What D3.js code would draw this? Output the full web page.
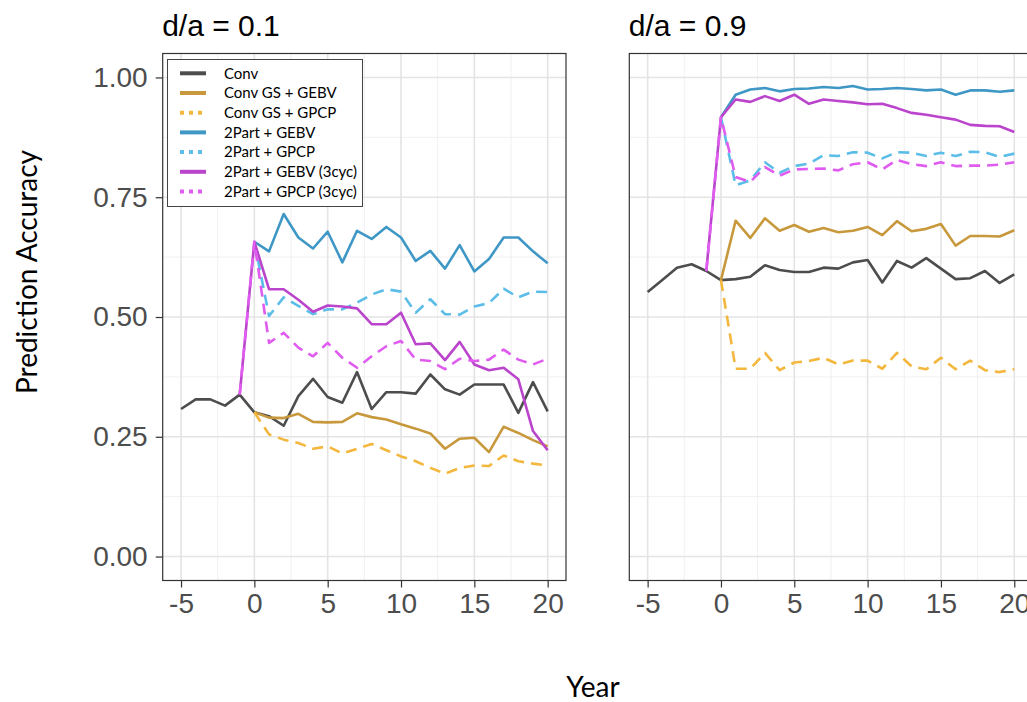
<!DOCTYPE html>
<html><head><meta charset="utf-8">
<script src="https://cdn.jsdelivr.net/npm/d3@7"></script>
<style>body{margin:0;background:#fff;} svg{display:block;}</style>
</head><body>
<svg id="chart" width="1027" height="702"></svg>
<script>
// ---- data ----
const seriesNames = ["Conv","Conv GS + GEBV","Conv GS + GPCP","2Part + GEBV","2Part + GPCP","2Part + GEBV (3cyc)","2Part + GPCP (3cyc)"];
const seriesStart = [-5, 0, 0, 0, 0, -1, -1];
const seriesColors = ["#4d4d4d","#c8993c","#f4b73e","#3f97c6","#5bbde8","#bb44cc","#e05cf0"];
const seriesDashed = [false,false,true,false,true,false,true];
const panelTitles = ["d/a = 0.1","d/a = 0.9"];
const xTicks = [-5,0,5,10,15,20];
const yTicks = [0,0.25,0.5,0.75,1.0];

// d/a = 0.1
const left_conv = [0.308,0.328,0.328,0.315,0.338,0.301,0.293,0.273,0.335,0.371,0.333,0.321,0.385,0.308,0.343,0.343,0.340,0.380,0.349,0.338,0.359,0.359,0.359,0.300,0.364,0.303];
const left_gsGebv = [0.301,0.290,0.289,0.298,0.281,0.280,0.281,0.299,0.291,0.286,0.276,0.267,0.257,0.225,0.246,0.248,0.218,0.271,0.258,0.243,0.230];
const left_gsGpcp = [0.301,0.255,0.244,0.237,0.225,0.230,0.215,0.225,0.235,0.222,0.209,0.199,0.185,0.173,0.185,0.190,0.189,0.211,0.199,0.194,0.190];
const left_tpGebv = [0.657,0.637,0.715,0.666,0.643,0.678,0.614,0.680,0.663,0.688,0.666,0.617,0.638,0.601,0.650,0.595,0.621,0.666,0.666,0.637,0.612];
const left_tpGpcp = [0.657,0.502,0.541,0.523,0.506,0.516,0.516,0.530,0.547,0.558,0.553,0.509,0.537,0.506,0.505,0.522,0.529,0.559,0.541,0.553,0.552];
const left_cycGebv = [0.338,0.657,0.558,0.558,0.536,0.511,0.524,0.522,0.518,0.485,0.485,0.509,0.443,0.445,0.410,0.448,0.401,0.389,0.394,0.370,0.262,0.222];
const left_cycGpcp = [0.338,0.657,0.446,0.467,0.436,0.418,0.446,0.415,0.394,0.418,0.439,0.450,0.411,0.408,0.391,0.413,0.408,0.411,0.432,0.411,0.401,0.413];

// d/a = 0.9
const right_conv = [0.552,0.577,0.603,0.610,0.596,0.577,0.579,0.584,0.608,0.598,0.594,0.594,0.603,0.601,0.614,0.619,0.572,0.617,0.603,0.623,0.601,0.579,0.581,0.596,0.571,0.589];
const right_gsGebv = [0.577,0.701,0.665,0.706,0.680,0.692,0.678,0.686,0.677,0.680,0.688,0.671,0.700,0.679,0.684,0.694,0.649,0.669,0.669,0.668,0.681];
const right_gsGpcp = [0.577,0.392,0.392,0.425,0.389,0.405,0.408,0.415,0.401,0.409,0.409,0.392,0.425,0.397,0.391,0.415,0.391,0.409,0.389,0.385,0.391];
const right_tpGebv = [0.917,0.964,0.975,0.978,0.971,0.976,0.977,0.980,0.978,0.982,0.975,0.976,0.978,0.976,0.973,0.975,0.964,0.973,0.973,0.970,0.973];
const right_tpGpcp = [0.917,0.775,0.785,0.823,0.801,0.815,0.820,0.838,0.836,0.844,0.843,0.831,0.844,0.843,0.836,0.843,0.836,0.845,0.844,0.834,0.841];
const right_cycGebv = [0.596,0.917,0.954,0.949,0.961,0.951,0.964,0.945,0.954,0.951,0.948,0.944,0.945,0.936,0.926,0.922,0.917,0.912,0.901,0.899,0.898,0.886];
const right_cycGpcp = [0.596,0.917,0.792,0.782,0.813,0.795,0.808,0.809,0.810,0.806,0.819,0.823,0.808,0.828,0.819,0.815,0.823,0.815,0.816,0.816,0.818,0.823];

const panelData = [
  [left_conv,left_gsGebv,left_gsGpcp,left_tpGebv,left_tpGpcp,left_cycGebv,left_cycGpcp],
  [right_conv,right_gsGebv,right_gsGpcp,right_tpGebv,right_tpGpcp,right_cycGebv,right_cycGpcp]
];

// ---- layout ----
const svg = d3.select("#chart");
const panelX = [[162.7,566],[629.3,1032.6]];
const panelTop = 53.5, panelBottom = 580.5;
const y = d3.scaleLinear().domain([-0.05,1.05]).range([panelBottom,panelTop]);
const tickFont = "'Liberation Sans', Arial, sans-serif";
const labFont = "Lato, 'Open Sans', sans-serif";

panelX.forEach((px,pi)=>{
  const x = d3.scaleLinear().domain([-6.25,21.25]).range(px);
  const g = svg.append("g");
  // background grid
  const minorX = d3.range(-7.5,22.5,5);
  const minorY = d3.range(-0.125,1.1,0.25);
  g.selectAll(".gxm").data(minorX.filter(v=>v>-6.25&&v<21.25)).enter().append("line")
    .attr("x1",d=>x(d)).attr("x2",d=>x(d)).attr("y1",panelTop).attr("y2",panelBottom)
    .attr("stroke","#ececec").attr("stroke-width",0.8);
  g.selectAll(".gym").data(minorY.filter(v=>v>-0.05&&v<1.05)).enter().append("line")
    .attr("x1",px[0]).attr("x2",px[1]).attr("y1",d=>y(d)).attr("y2",d=>y(d))
    .attr("stroke","#ececec").attr("stroke-width",0.8);
  g.selectAll(".gx").data(xTicks).enter().append("line")
    .attr("x1",d=>x(d)).attr("x2",d=>x(d)).attr("y1",panelTop).attr("y2",panelBottom)
    .attr("stroke","#e4e4e4").attr("stroke-width",1.6);
  g.selectAll(".gy").data(yTicks).enter().append("line")
    .attr("x1",px[0]).attr("x2",px[1]).attr("y1",d=>y(d)).attr("y2",d=>y(d))
    .attr("stroke","#e4e4e4").attr("stroke-width",1.6);

  // lines
  const line = d3.line().x(d=>x(d[0])).y(d=>y(d[1]));
  panelData[pi].forEach((vals,si)=>{
    const pts = vals.map((v,i)=>[seriesStart[si]+i, v]);
    g.append("path").attr("d",line(pts)).attr("fill","none")
      .attr("stroke",seriesColors[si]).attr("stroke-width",2.6)
      .attr("stroke-linejoin","round")
      .attr("stroke-dasharray",seriesDashed[si]?"11,7":null);
  });

  // border
  g.append("rect").attr("x",px[0]).attr("y",panelTop).attr("width",px[1]-px[0]).attr("height",panelBottom-panelTop)
    .attr("fill","none").attr("stroke","#333").attr("stroke-width",1.2);

  // x axis
  const xa = g.append("g").attr("transform",`translate(0,${panelBottom})`)
    .call(d3.axisBottom(x).tickValues(xTicks).tickSize(7).tickPadding(6).tickFormat(d=>String(d)));
  xa.select(".domain").remove();
  xa.selectAll("line").attr("stroke","#333").attr("stroke-width",1.2);
  xa.selectAll("text").attr("font-family",tickFont).attr("font-size",28).attr("fill","#4d4d4d");

  if(pi===0){
    const ya = g.append("g").attr("transform",`translate(${px[0]},0)`)
      .call(d3.axisLeft(y).tickValues(yTicks).tickSize(7).tickPadding(8).tickFormat(d3.format(".2f")));
    ya.select(".domain").remove();
    ya.selectAll("line").attr("stroke","#333").attr("stroke-width",1.2);
    ya.selectAll("text").attr("font-family",tickFont).attr("font-size",28).attr("fill","#4d4d4d");
  }

  svg.append("text").attr("x",px[0]-0.5).attr("y",36).text(panelTitles[pi])
    .attr("font-family",tickFont).attr("font-size",30).attr("fill","#000");
});

// axis titles
svg.append("text").attr("x",593).attr("y",697).attr("text-anchor","middle").text("Year")
  .attr("font-family",labFont).attr("font-size",28).attr("fill","#000");
svg.append("text").attr("transform","translate(37,272) rotate(-90)").attr("text-anchor","middle")
  .text("Prediction Accuracy").attr("font-family",labFont).attr("font-size",28).attr("fill","#000");

// legend
const lg = svg.append("g");
lg.append("rect").attr("x",167.5).attr("y",59.5).attr("width",195).attr("height",147)
  .attr("fill","#fff").attr("stroke","#444").attr("stroke-width",1);
seriesNames.forEach((n,i)=>{
  const cy = 73.3 + i*19.7;
  lg.append("line").attr("x1",180).attr("x2",206).attr("y1",cy).attr("y2",cy)
    .attr("stroke",seriesColors[i]).attr("stroke-width",4)
    .attr("stroke-dasharray",seriesDashed[i]?"4,5":null);
  lg.append("text").attr("x",224).attr("y",cy).attr("dy","0.35em").text(n)
    .attr("font-family",labFont).attr("font-size",15).attr("fill","#000");
});
</script>
</body></html>
